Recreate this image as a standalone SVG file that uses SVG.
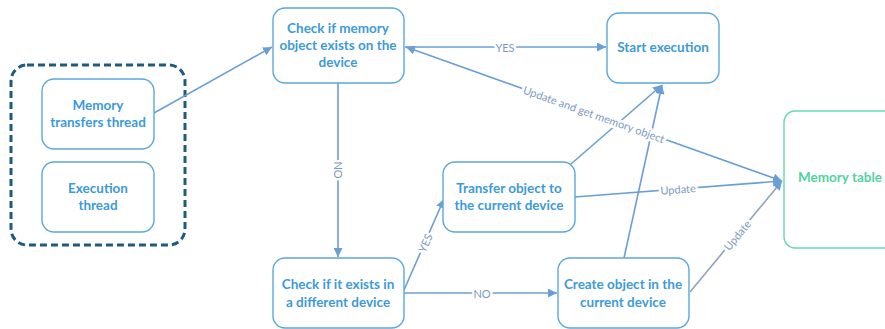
<svg xmlns="http://www.w3.org/2000/svg" width="885" height="329" viewBox="0 0 885 329">
  <style>
    .node { fill: #ffffff; stroke: #5ba8dd; stroke-width: 1.4; }
    .ntext { font-family: Lato, "Open Sans", sans-serif; font-weight: 700; font-size: 13.5px; fill: #3d9ad9; text-anchor: middle; }
    .gtext { font-family: Lato, "Open Sans", sans-serif; font-weight: 700; font-size: 13.5px; fill: #52d3a2; }
    .conn { fill: none; stroke: #6a9fd6; stroke-width: 1.6; }
    .conn.grey { stroke: #8ea3bd; }
    .lbl { font-family: Lato, "Open Sans", sans-serif; font-size: 11px; fill: #7c9bc2; text-anchor: middle; dominant-baseline: central; paint-order: stroke; stroke: #ffffff; stroke-width: 5; stroke-linejoin: round; }
  </style>
  <defs>
    <marker id="arrow" viewBox="0 0 10 10" refX="10" refY="5" markerWidth="9" markerHeight="9" markerUnits="userSpaceOnUse" orient="auto-start-reverse">
      <path d="M0,0 L10,5 L0,10 z" fill="#6a9fd6"/>
    </marker>
  </defs>
  <rect width="885" height="329" fill="#ffffff"/>

  <!-- thread container -->
  <g id="threads">
    <rect x="11" y="65" width="174" height="180" rx="16" fill="none" stroke="#1e5b7c" stroke-width="3" stroke-dasharray="7 4"/>
  </g>

  <!-- connectors -->
  <g id="connectors">
    <line class="conn" x1="154" y1="113" x2="272" y2="47" marker-end="url(#arrow)"/>
    <line class="conn" x1="405" y1="47" x2="606" y2="47" marker-end="url(#arrow)"/>
    <line class="conn" x1="406" y1="47" x2="782" y2="181" marker-start="url(#arrow)" marker-end="url(#arrow)"/>
    <line class="conn" x1="338" y1="83" x2="338" y2="257" marker-end="url(#arrow)"/>
    <line class="conn" x1="404" y1="290" x2="444" y2="199" marker-end="url(#arrow)"/>
    <line class="conn" x1="404" y1="293" x2="557" y2="293" marker-end="url(#arrow)"/>
    <line class="conn" x1="571" y1="164" x2="662" y2="85" marker-end="url(#arrow)"/>
    <line class="conn" x1="624" y1="258" x2="662" y2="85" marker-end="url(#arrow)"/>
    <line class="conn" x1="575" y1="197" x2="782" y2="181" marker-end="url(#arrow)"/>
    <line class="conn grey" x1="690" y1="292" x2="782" y2="181" marker-end="url(#arrow)"/>

    <text class="lbl" x="505" y="47">YES</text>
    <text class="lbl" transform="translate(594 114) rotate(19.6)">Update and get memory object</text>
    <text class="lbl" transform="translate(338 170) rotate(90)">NO</text>
    <text class="lbl" transform="translate(425 243) rotate(-65.9)">YES</text>
    <text class="lbl" x="482" y="293">NO</text>
    <text class="lbl" transform="translate(678 189) rotate(-4.4)">Update</text>
    <text class="lbl" transform="translate(737 235) rotate(-50.3)">Update</text>
  </g>

  <g id="memory-transfers-thread">
    <rect class="node" x="42" y="79" width="112" height="70" rx="12"/>
    <text class="ntext" x="98" y="110">Memory</text>
    <text class="ntext" x="98" y="127">transfers thread</text>
  </g>

  <g id="execution-thread">
    <rect class="node" x="42" y="162" width="112" height="70" rx="12"/>
    <text class="ntext" x="98" y="193">Execution</text>
    <text class="ntext" x="98" y="210">thread</text>
  </g>

  <g id="check-on-device">
    <rect class="node" x="273" y="8" width="131" height="75" rx="12"/>
    <text class="ntext" x="338" y="33">Check if memory</text>
    <text class="ntext" x="338" y="50">object exists on the</text>
    <text class="ntext" x="338" y="67">device</text>
  </g>

  <g id="start-execution">
    <rect class="node" x="607" y="13" width="112" height="70" rx="12"/>
    <text class="ntext" x="663" y="52">Start execution</text>
  </g>

  <g id="memory-table">
    <rect x="784" y="111" width="120" height="137" rx="11" fill="#ffffff" stroke="#6ad8b0" stroke-width="1.4"/>
    <text class="gtext" x="798" y="182">Memory table</text>
  </g>

  <g id="transfer-object">
    <rect class="node" x="443" y="162" width="132" height="70" rx="12"/>
    <text class="ntext" x="509" y="193">Transfer object to</text>
    <text class="ntext" x="509" y="210">the current device</text>
  </g>

  <g id="check-other-device">
    <rect class="node" x="273" y="258" width="131" height="70" rx="12"/>
    <text class="ntext" x="338" y="289">Check if it exists in</text>
    <text class="ntext" x="338" y="307">a different device</text>
  </g>

  <g id="create-object">
    <rect class="node" x="558" y="258" width="131" height="70" rx="12"/>
    <text class="ntext" x="623" y="289">Create object in the</text>
    <text class="ntext" x="623" y="307">current device</text>
  </g>
</svg>
